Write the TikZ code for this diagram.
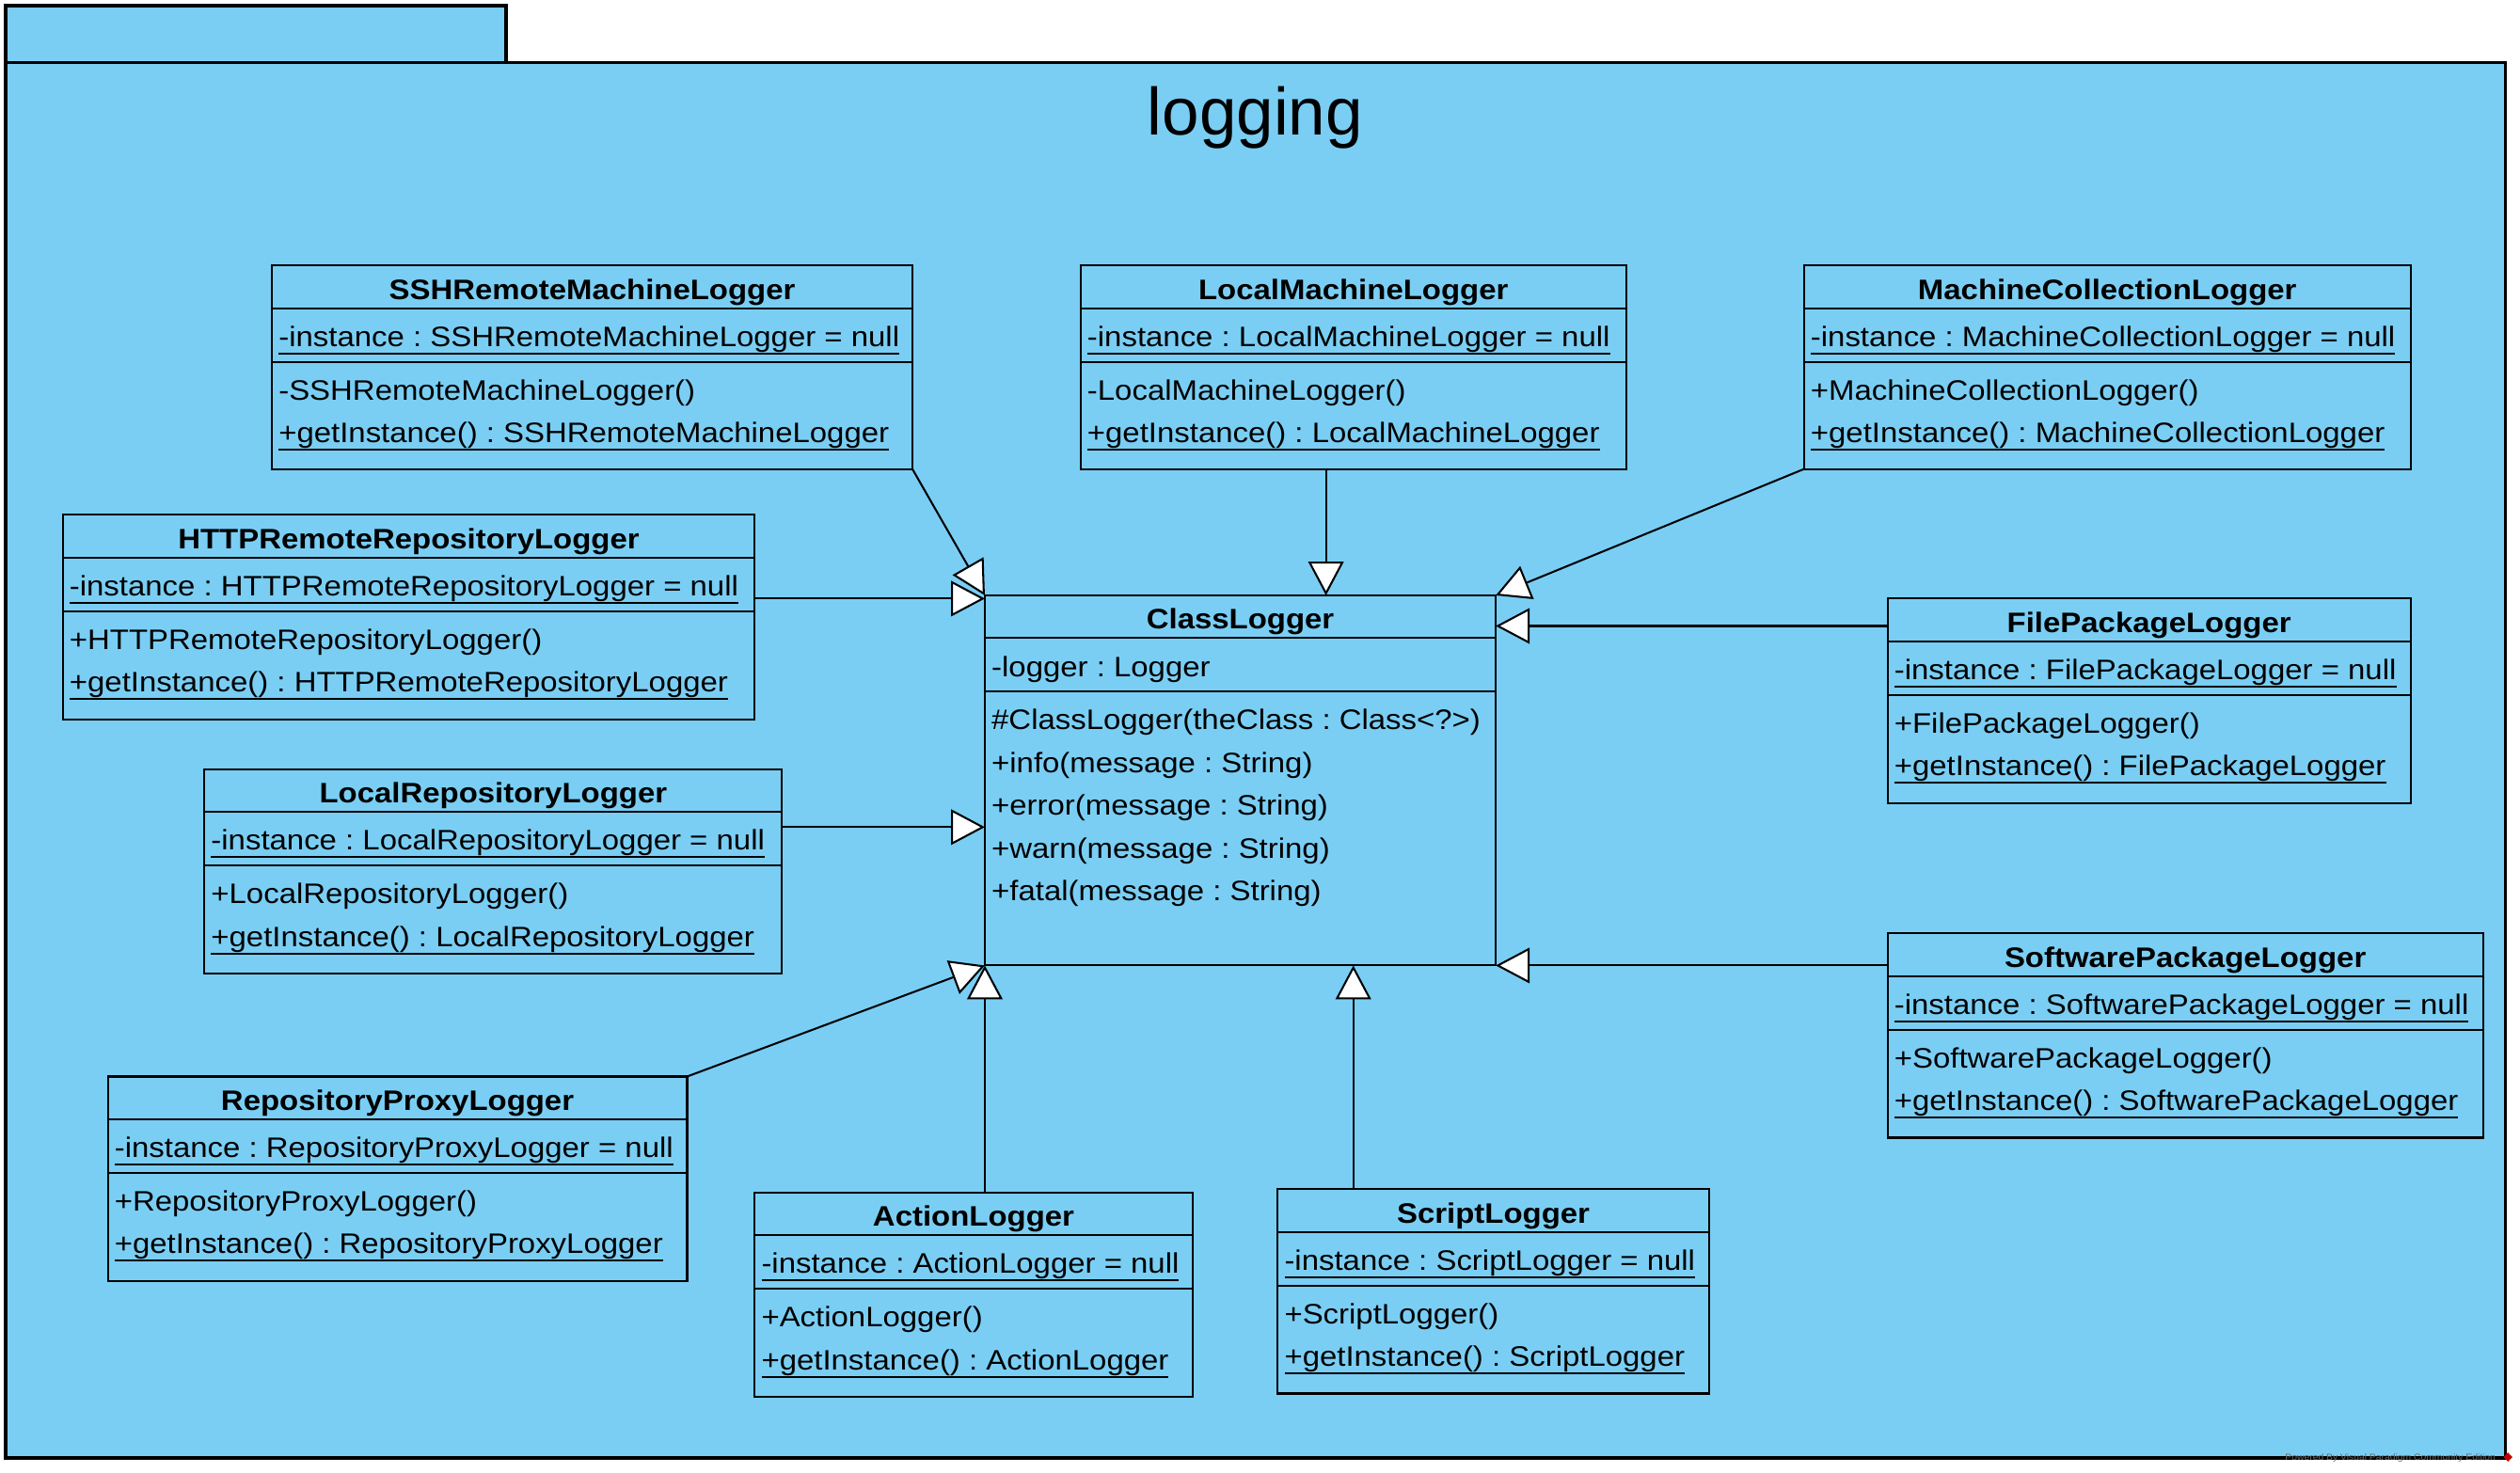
\documentclass[tikz,border=0pt]{standalone}
\usepackage{fontspec}
\setmainfont{Liberation Sans}[FakeStretch=1.1]
\newfontfamily\titlefont{Liberation Sans}
\usepackage{tikz}
\usetikzlibrary{arrows.meta}
\usetikzlibrary{calc}
\definecolor{pkgblue}{RGB}{122,206,244}
\frenchspacing

% static members are underlined
\newcommand{\ulined}[1]{\setbox0\hbox{#1}\rlap{\rule[-5pt]{\wd0}{1.2pt}}\box0}

% one class box: id, top left corner, width, height, name, attribute, operations
\newcommand{\umlclass}[7]{
    \node[class box, minimum width=#3pt, minimum height=#4pt] (#1) at (#2) {};
    \node[class name] (#1-name) at ($(#1.north)+(0,21)$) {#5};
    \draw[class line] ($(#1.north west)+(0,26.5)$) -- ($(#1.north east)+(0,26.5)$);
    \node[member] (#1-attr) at ($(#1.north west)+(4,50.3)$) {#6};
    \draw[class line] ($(#1.north west)+(0,59.8)$) -- ($(#1.north east)+(0,59.8)$);
    \foreach \op [count=\k from 0] in {#7}
        \node[member] (#1-op\k) at ($(#1.north west)+(4,{83.6+26.5*\k})$) {\op};
}

\begin{document}
\begin{tikzpicture}[
    x=1pt, y=-1pt,
    package/.style={draw, line width=2pt, fill=pkgblue},
    class box/.style={draw, line width=1.2pt, fill=pkgblue, anchor=north west, outer sep=0pt, inner sep=0pt},
    class line/.style={line width=1.2pt},
    class name/.style={anchor=base, inner sep=0pt, font=\fontsize{17.5}{21}\selectfont\bfseries},
    member/.style={anchor=base west, inner sep=0pt, font=\fontsize{17.5}{21}\selectfont},
    gen/.style={-{Triangle[length=21pt, width=22pt, fill=white]}, line width=1.2pt},
    every node/.style={color=black}
    ]

    \useasboundingbox (0,0) rectangle (1566,915.4);

    % package
    \draw[package] (3.5,3.5) rectangle (314.5,39);
    \draw[package] (3.5,39) rectangle (1557,906);
    \node[anchor=base, inner sep=0pt, font=\titlefont\fontsize{41.5}{48}\selectfont] (pkg-name) at (780,84) {logging};

    % classes
    \umlclass{ssh}{169,165}{398}{126.5}{SSHRemoteMachineLogger}
        {\ulined{-instance : SSHRemoteMachineLogger = null}}
        {-SSHRemoteMachineLogger(), \ulined{+getInstance() : SSHRemoteMachineLogger}}
    \umlclass{lm}{671.5,165}{339}{126.5}{LocalMachineLogger}
        {\ulined{-instance : LocalMachineLogger = null}}
        {-LocalMachineLogger(), \ulined{+getInstance() : LocalMachineLogger}}
    \umlclass{mc}{1121,165}{377}{126.5}{MachineCollectionLogger}
        {\ulined{-instance : MachineCollectionLogger = null}}
        {+MachineCollectionLogger(), \ulined{+getInstance() : MachineCollectionLogger}}
    \umlclass{http}{39,320}{430}{127}{HTTPRemoteRepositoryLogger}
        {\ulined{-instance : HTTPRemoteRepositoryLogger = null}}
        {+HTTPRemoteRepositoryLogger(), \ulined{+getInstance() : HTTPRemoteRepositoryLogger}}
    \umlclass{cl}{612,370}{317.5}{230}{ClassLogger}
        {-logger : Logger}
        {\#ClassLogger(theClass : Class<?>), +info(message : String), +error(message : String),
         +warn(message : String), +fatal(message : String)}
    \umlclass{fp}{1173,372}{325}{127}{FilePackageLogger}
        {\ulined{-instance : FilePackageLogger = null}}
        {+FilePackageLogger(), \ulined{+getInstance() : FilePackageLogger}}
    \umlclass{lr}{127,478}{359}{127}{LocalRepositoryLogger}
        {\ulined{-instance : LocalRepositoryLogger = null}}
        {+LocalRepositoryLogger(), \ulined{+getInstance() : LocalRepositoryLogger}}
    \umlclass{sp}{1173,580}{370}{127}{SoftwarePackageLogger}
        {\ulined{-instance : SoftwarePackageLogger = null}}
        {+SoftwarePackageLogger(), \ulined{+getInstance() : SoftwarePackageLogger}}
    \umlclass{rp}{67,669}{360}{127}{RepositoryProxyLogger}
        {\ulined{-instance : RepositoryProxyLogger = null}}
        {+RepositoryProxyLogger(), \ulined{+getInstance() : RepositoryProxyLogger}}
    \umlclass{al}{469,741}{272}{127}{ActionLogger}
        {\ulined{-instance : ActionLogger = null}}
        {+ActionLogger(), \ulined{+getInstance() : ActionLogger}}
    \umlclass{sl}{794,739}{268}{127}{ScriptLogger}
        {\ulined{-instance : ScriptLogger = null}}
        {+ScriptLogger(), \ulined{+getInstance() : ScriptLogger}}

    % generalizations
    \coordinate (http-out) at ([yshift=-2pt]cl.north west -| http.east);
    \coordinate (lm-out) at ([xshift=-17pt]lm.south);
    \coordinate (fp-out) at ([yshift=-17pt]fp.north west);
    \coordinate (lr-out) at ([yshift=-36pt]lr.north east);
    \coordinate (sl-out) at ([xshift=-87pt]sl.north);
    \draw[gen] (ssh.south east) -- (cl.north west);
    \draw[gen] (http-out) -- (http-out -| cl.west);
    \draw[gen] (lm-out) -- (lm-out |- cl.north);
    \draw[gen] (mc.south west) -- (cl.north east);
    \draw[gen] (fp-out) -- (fp-out -| cl.east);
    \draw[gen] (lr-out) -- (lr-out -| cl.west);
    \draw[gen] (sp.west |- cl.south east) -- (cl.south east);
    \draw[gen] (rp.north east) -- (cl.south west);
    \draw[gen] (al.north -| cl.south west) -- (cl.south west);
    \draw[gen] (sl-out) -- (sl-out |- cl.south);

    % tool mark
    \node[anchor=base east, inner sep=0pt, color=black!60, font=\fontsize{5.5}{6}\selectfont] (mark) at (1551,907.5) {Powered By Visual Paradigm Community Edition};
    \node[fill=red!75!black, minimum size=4pt, inner sep=0pt, rotate=45] (mark-logo) at (1558.5,905.5) {};
\end{tikzpicture}
\end{document}
